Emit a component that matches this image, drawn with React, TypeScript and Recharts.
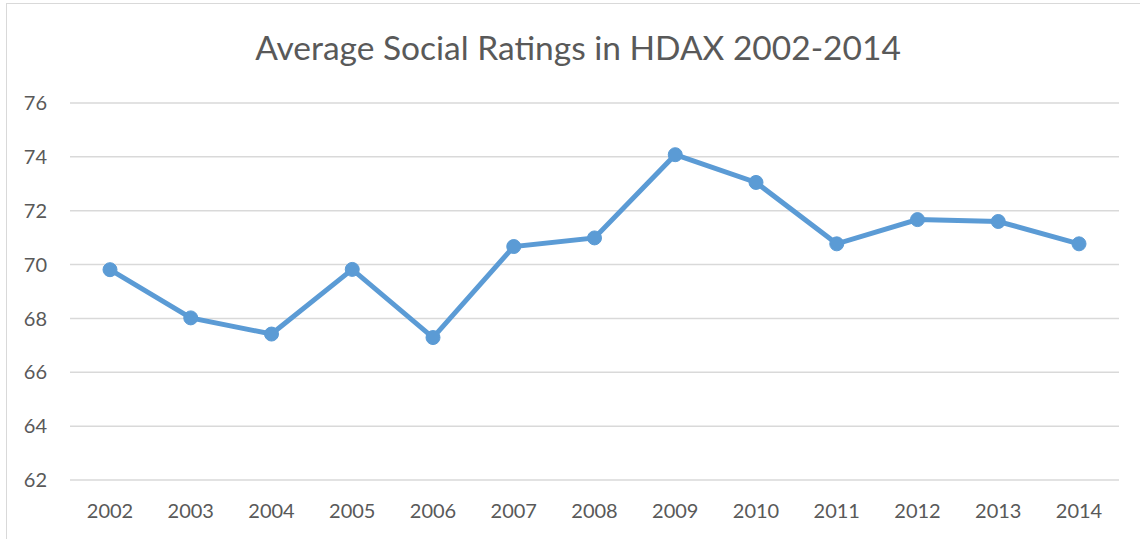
import React from "react";
import { LineChart, Line, XAxis, YAxis, CartesianGrid } from "recharts";

const years = ["2002", "2003", "2004", "2005", "2006", "2007", "2008", "2009", "2010", "2011", "2012", "2013", "2014"];
const ratings = [69.81, 68.02, 67.42, 69.82, 67.29, 70.67, 70.99, 74.08, 73.05, 70.77, 71.67, 71.6, 70.77];
const yTicks = [62, 64, 66, 68, 70, 72, 74, 76];
const title = "Average Social Ratings in HDAX 2002-2014";

const data = years.map((y, i) => ({ year: y, value: ratings[i] }));

const FONT = "Lato, 'Open Sans', sans-serif";
const TEXT = "#595959";

export default function App() {
  return (
    <div style={{ position: "fixed", left: 0, top: 0, width: 1140, height: 539, background: "#fff", overflow: "hidden" }}>
      <div
        style={{
          position: "absolute",
          left: 6,
          top: 3,
          width: 1200,
          height: 600,
          border: "1.5px solid #D9D9D9",
          boxSizing: "border-box",
        }}
      />
      <div
        style={{
          position: "absolute",
          left: 8,
          width: 1140,
          top: 27,
          textAlign: "center",
          fontFamily: FONT,
          fontSize: 33.5,
          color: TEXT,
          lineHeight: "40px",
        }}
      >
        {title}
      </div>
      <div style={{ position: "absolute", left: 0, top: 0 }}>
        <LineChart width={1140} height={539} data={data} margin={{ top: 103, right: 21, bottom: 19, left: 10 }}>
          <CartesianGrid vertical={false} stroke="#D9D9D9" strokeWidth={1.5} />
          <XAxis
            dataKey="year"
            axisLine={false}
            tickLine={false}
            tickSize={0}
            tickMargin={24}
            height={40}
            padding={{ left: 40, right: 40 }}
            interval={0}
            tick={{ fill: TEXT, fontSize: 20, fontFamily: FONT }}
          />
          <YAxis
            domain={[62, 76]}
            ticks={yTicks}
            axisLine={false}
            tickLine={false}
            tickSize={0}
            tickMargin={23}
            width={60}
            tick={{ fill: TEXT, fontSize: 20, fontFamily: FONT }}
          />
          <Line
            type="linear"
            dataKey="value"
            stroke="#5B9BD5"
            strokeWidth={5}
            dot={{ r: 7, fill: "#5B9BD5", stroke: "#5B9BD5", strokeWidth: 1 }}
            activeDot={false}
            isAnimationActive={false}
          />
        </LineChart>
      </div>
    </div>
  );
}
